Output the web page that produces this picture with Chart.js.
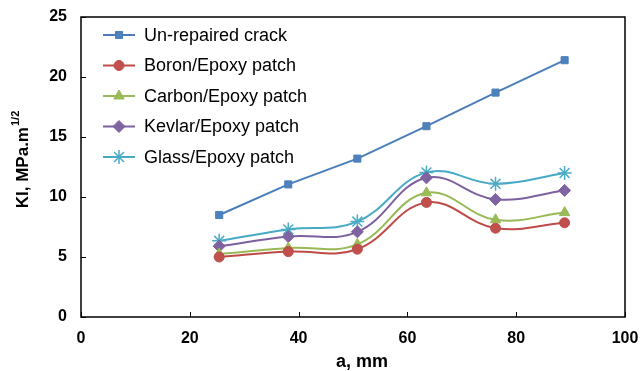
<!DOCTYPE html>
<html>
<head>
<meta charset="utf-8">
<script src="https://cdn.jsdelivr.net/npm/chart.js@4/dist/chart.umd.min.js"></script>
<style>
  html, body { margin: 0; padding: 0; background: #fff; }
  #wrap { width: 640px; height: 371px; position: relative; }
</style>
</head>
<body>
<div id="wrap"><canvas id="c"></canvas></div>
<script>
// Crack length a (mm) vs stress intensity factor KI
const crackLength = [25.4, 38.1, 50.8, 63.5, 76.2, 88.9];
const unrepaired = [8.5, 11.05, 13.2, 15.9, 18.7, 21.4];
const boron = [5.0, 5.45, 5.65, 9.55, 7.4, 7.85];
const carbon = [5.25, 5.75, 6.05, 10.35, 8.1, 8.7];
const kevlar = [5.9, 6.7, 7.1, 11.6, 9.8, 10.55];
const glass = [6.35, 7.3, 7.95, 12.05, 11.1, 12.0];
const seriesNames = ['Un-repaired crack', 'Boron/Epoxy patch', 'Carbon/Epoxy patch', 'Kevlar/Epoxy patch', 'Glass/Epoxy patch'];
const xTicks = [0, 20, 40, 60, 80, 100];
const yTicks = [0, 5, 10, 15, 20, 25];

const FONT = '"Liberation Sans", Arial, sans-serif';
const pts = (ys) => crackLength.map((x, i) => ({ x, y: ys[i] }));

function series(label, ys, line, fill, style, radius, tension) {
  return {
    label, data: pts(ys),
    borderColor: line, backgroundColor: fill, borderWidth: 2,
    pointStyle: style, pointRadius: radius, pointHoverRadius: radius,
    pointBackgroundColor: fill, pointBorderColor: style === 'star' ? fill : line,
    pointBorderWidth: style === 'star' ? 1.5 : 1,
    tension, fill: false,
  };
}

const datasets = [
  series(seriesNames[0], unrepaired, '#4A7EBB', '#4F81BD', 'rect', 5, 0),
  series(seriesNames[1], boron, '#BE4B48', '#C0504D', 'circle', 5, 0.4),
  series(seriesNames[2], carbon, '#98B954', '#9BBB59', 'triangle', 6, 0.4),
  series(seriesNames[3], kevlar, '#7D60A0', '#8064A2', 'rectRot', 6, 0.4),
  series(seriesNames[4], glass, '#46AAC5', '#4BACC6', 'star', 7, 0.4),
];

// frame, inward tick marks, legend inside the plot, axis titles (y with superscript)
const decor = {
  id: 'decor',
  afterDraw(chart) {
    const { ctx, chartArea: a, scales } = chart;
    ctx.save();
    ctx.strokeStyle = '#000';
    ctx.lineWidth = 1.5;
    ctx.strokeRect(a.left, a.top, a.right - a.left, a.bottom - a.top);
    ctx.lineWidth = 1;
    ctx.beginPath();
    xTicks.forEach((v) => { const px = Math.round(scales.x.getPixelForValue(v)) + 0.5; ctx.moveTo(px, a.bottom); ctx.lineTo(px, a.bottom - 5); });
    yTicks.forEach((v) => { const py = Math.round(scales.y.getPixelForValue(v)) + 0.5; ctx.moveTo(a.left, py); ctx.lineTo(a.left + 5, py); });
    ctx.stroke();

    // legend
    ctx.font = '18px ' + FONT;
    ctx.textBaseline = 'middle';
    ctx.fillStyle = '#000';
    chart.data.datasets.forEach((ds, i) => {
      const y = 35 + i * 30.5;
      ctx.strokeStyle = ds.borderColor;
      ctx.lineWidth = 2;
      ctx.beginPath(); ctx.moveTo(103, y); ctx.lineTo(135, y); ctx.stroke();
      ctx.fillStyle = ds.pointBackgroundColor;
      ctx.strokeStyle = ds.pointBorderColor;
      ctx.lineWidth = ds.pointBorderWidth;
      Chart.helpers.drawPoint(ctx, { pointStyle: ds.pointStyle, radius: ds.pointRadius, rotation: 0, borderWidth: ds.pointBorderWidth }, 119, y);
      ctx.fillStyle = '#000';
      ctx.fillText(ds.label, 144, y + 1);
    });

    // x axis title
    ctx.font = 'bold 18px ' + FONT;
    ctx.textAlign = 'center';
    ctx.fillText('a, mm', 362, 362);

    // y axis title
    ctx.translate(23, 160);
    ctx.rotate(-Math.PI / 2);
    const main = 'KI, MPa.m', sup = '1/2';
    ctx.font = 'bold 17px ' + FONT;
    const w1 = ctx.measureText(main).width;
    ctx.font = 'bold 11px ' + FONT;
    const w2 = ctx.measureText(sup).width;
    const x0 = -(w1 + w2) / 2;
    ctx.textAlign = 'left';
    ctx.font = 'bold 17px ' + FONT;
    ctx.fillText(main, x0, 0);
    ctx.font = 'bold 11px ' + FONT;
    ctx.fillText(sup, x0 + w1 + 1, -7);
    ctx.restore();
  },
};

new Chart(document.getElementById('c'), {
  type: 'line',
  data: { datasets },
  options: {
    responsive: true, maintainAspectRatio: false, animation: false,
    layout: { padding: { left: 0, right: 15, top: 17, bottom: 0 } },
    plugins: { legend: { display: false }, tooltip: { enabled: false } },
    scales: {
      x: {
        type: 'linear', min: 0, max: 100,
        afterBuildTicks: (s) => { s.ticks = xTicks.map((v) => ({ value: v })); },
        afterFit: (s) => { s.height = 54; s.paddingLeft = 0; s.paddingRight = 0; },
        grid: { display: false, drawTicks: false },
        border: { display: false },
        ticks: { padding: 12, color: '#000', maxRotation: 0, font: { family: FONT, size: 16, weight: 'bold' } },
      },
      y: {
        min: 0, max: 25,
        afterBuildTicks: (s) => { s.ticks = yTicks.map((v) => ({ value: v })); },
        afterFit: (s) => { s.width = 81; s.paddingTop = 0; s.paddingBottom = 0; },
        grid: { display: false, drawTicks: false },
        border: { display: false },
        ticks: { padding: 14, color: '#000', font: { family: FONT, size: 16, weight: 'bold' } },
      },
    },
  },
  plugins: [decor],
});
</script>
</body>
</html>
